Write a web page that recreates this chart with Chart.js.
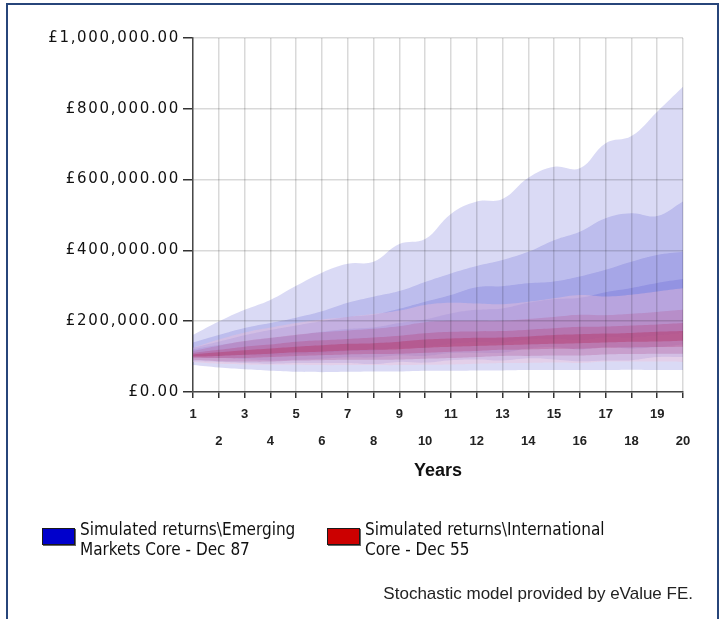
<!DOCTYPE html>
<html><head><meta charset="utf-8">
<script src="https://cdn.jsdelivr.net/npm/chart.js@4.4.1/dist/chart.umd.min.js"></script>
<style>
html,body{margin:0;padding:0;background:#fff;}
#wrap{position:relative;width:724px;height:619px;overflow:hidden;background:#fff;}
#frame{position:absolute;left:6px;top:3px;width:709px;height:700px;border:2px solid #27457a;border-bottom:none;}
#c{position:absolute;left:0;top:0;}
.leg{position:absolute;font-family:'DejaVu Sans Condensed','DejaVu Sans';font-size:17px;line-height:20px;color:#111;white-space:nowrap;}
.box{position:absolute;width:31px;height:15px;border:1px solid #1a1a1a;box-shadow:1px 1px 0 #666;}
#foot{position:absolute;right:31px;top:584px;font-family:'Liberation Sans';font-size:17px;color:#222;white-space:nowrap;}
</style></head>
<body>
<div id="wrap">
<canvas id="c" width="724" height="619"></canvas>
<div id="frame"></div>
<div class="box" style="left:42px;top:528px;background:#0000cc;"></div>
<div class="leg" style="left:80px;top:519px;">Simulated returns\Emerging<br>Markets Core - Dec 87</div>
<div class="box" style="left:327px;top:528px;background:#cc0000;"></div>
<div class="leg" style="left:365px;top:519px;">Simulated returns\International<br>Core - Dec 55</div>
<div id="foot">Stochastic model provided by eValue FE.</div>
</div>
<script>
// Categories
const years = [1,2,3,4,5,6,7,8,9,10,11,12,13,14,15,16,17,18,19,20];
const yTickValues = [0,200000,400000,600000,800000,1000000];
const yTickLabels = ['£0.00','£200,000.00','£400,000.00','£600,000.00','£800,000.00','£1,000,000.00'];

// Emerging Markets Core (blue) percentile band boundaries, £
const em95 = [161000,199000,232000,260000,300000,337000,362000,368000,418000,432000,503000,538000,545000,605000,636000,632000,703000,723000,792000,862000];
const em90 = [140000,161000,181000,195000,210000,228000,252000,269000,285000,311000,335000,356000,373000,396000,429000,453000,491000,505000,497000,538000];
const em75 = [125000,142000,160000,175000,188000,200000,212000,218000,235000,255000,274000,296000,299000,307000,312000,326000,345000,368000,387000,396000];
const em60 = [121000,133000,143000,152000,160000,170000,178000,182000,195000,205000,222000,232000,236000,252000,262000,266000,282000,294000,308000,319000];
const em40 = [101000,103000,104000,103000,107000,110000,116000,117000,125000,126000,136000,141000,140000,149000,151000,147000,155000,154000,160000,167000];
const em25 = [98000,96000,93000,89000,91000,94000,98000,98000,104000,102000,110000,111000,111000,123000,127000,120000,127000,123000,127000,135000];
const em10 = [87000,85000,82000,80000,82000,82000,82000,79000,85000,83000,90000,92000,89000,95000,92000,87000,89000,90000,99000,99000];
const em5  = [76000,69000,64000,60000,57000,56000,57000,58000,58000,60000,60000,61000,61000,62000,62000,62000,62000,63000,62000,62000];

// International Core (red) percentile band boundaries, £
const in95 = [125000,148000,168000,182000,195000,205000,212000,220000,230000,246000,252000,250000,248000,255000,265000,274000,270000,275000,284000,293000];
const in90 = [116000,131000,144000,153000,162000,169000,174000,179000,186000,197000,201000,201000,201000,206000,212000,218000,217000,221000,226000,232000];
const in75 = [110000,119000,128000,134000,142000,146000,150000,154000,159000,166000,170000,171000,172000,176000,180000,184000,185000,188000,191000,195000];
const in60 = [106000,112000,118000,123000,128000,132000,136000,138000,142000,148000,151000,153000,154000,157000,161000,163000,165000,167000,170000,172000];
const in40 = [100000,102000,105000,108000,112000,114000,117000,119000,121000,125000,128000,130000,132000,134000,136000,138000,140000,142000,143000,145000];
const in25 = [97000,96000,96000,99000,102000,104000,106000,107000,108000,111000,114000,116000,119000,120000,122000,122000,125000,126000,127000,128000];
const in10 = [91000,87000,86000,86000,89000,90000,91000,91000,92000,94000,96000,99000,102000,102000,103000,103000,106000,107000,108000,108000];
const in5  = [85000,80000,78000,77000,77000,76000,76000,76000,76000,77000,78000,80000,82000,82000,83000,82000,86000,86000,86000,85000];

const blueFill = 'rgba(70,70,205,0.2)';
const redFills = ['rgba(240,190,215,0.4)','rgba(180,100,160,0.35)','rgba(180,70,130,0.35)','rgba(180,40,90,0.35)'];

const bands = [
  [em95, em5, blueFill],
  [em90, em10, blueFill],
  [em75, em25, blueFill],
  [em60, em40, blueFill],
  [in95, in5, redFills[0]],
  [in90, in10, redFills[1]],
  [in75, in25, redFills[2]],
  [in60, in40, redFills[3]]
];

const datasets = [];
bands.forEach(([upper, lower, color], k) => {
  const common = {pointRadius:0, borderWidth:0, tension:0.4, borderColor:'rgba(0,0,0,0)', order: 100 - k};
  datasets.push(Object.assign({data: upper, fill:false}, common));
  datasets.push(Object.assign({data: lower, fill:'-1', backgroundColor: color}, common));
});

const chart = new Chart(document.getElementById('c'), {
  type: 'line',
  data: { labels: years, datasets },
  options: {
    responsive: false,
    animation: false,
    events: [],
    layout: { padding: { left: 0, right: 41, top: 38, bottom: 127 } },
    plugins: { legend: { display: false }, tooltip: { enabled: false } },
    scales: {
      x: {
        type: 'category',
        offset: false,
        grid: { color: 'rgba(0,0,0,0.15)', lineWidth: 1.5, tickLength: 6, tickColor: '#333', z: 1 },
        border: { color: '#555', width: 1.5 },
        ticks: {
          autoSkip: false, maxRotation: 0, minRotation: 0, padding: 3,
          color: '#222',
          font: { family: 'Liberation Sans', size: 13, weight: 'bold', lineHeight: '27px' },
          callback: (v, i) => (i % 2 === 0 ? String(years[i]) : ['', String(years[i])])
        },
        title: {
          display: true, text: 'Years', color: '#111',
          font: { family: 'Liberation Sans', size: 18, weight: 'bold', lineHeight: 1.2 },
          padding: { top: 0, bottom: 10 }
        },
        afterFit: (s) => { s.height = 100; }
      },
      y: {
        min: 0, max: 1000000,
        grid: { color: 'rgba(0,0,0,0.15)', lineWidth: 1.5, tickLength: 10, tickColor: '#333', z: 1 },
        border: { color: '#555', width: 1.5 },
        afterBuildTicks: (s) => { s.ticks = yTickValues.map(v => ({ value: v })); },
        ticks: {
          padding: 3, color: '#111',
          font: { family: 'DejaVu Sans', size: 15 },
          callback: (v) => yTickLabels[yTickValues.indexOf(v)]
        },
        afterFit: (s) => { s.width = 193; }
      }
    }
  }
});

const ys = chart.scales.y;
const origDrawLabels = ys.drawLabels;
ys.drawLabels = function (area) {
  const ctx = this.ctx;
  ctx.save();
  try { ctx.letterSpacing = '1.7px'; } catch (e) {}
  origDrawLabels.call(this, area);
  ctx.restore();
};
chart.draw();
</script>
</body></html>
